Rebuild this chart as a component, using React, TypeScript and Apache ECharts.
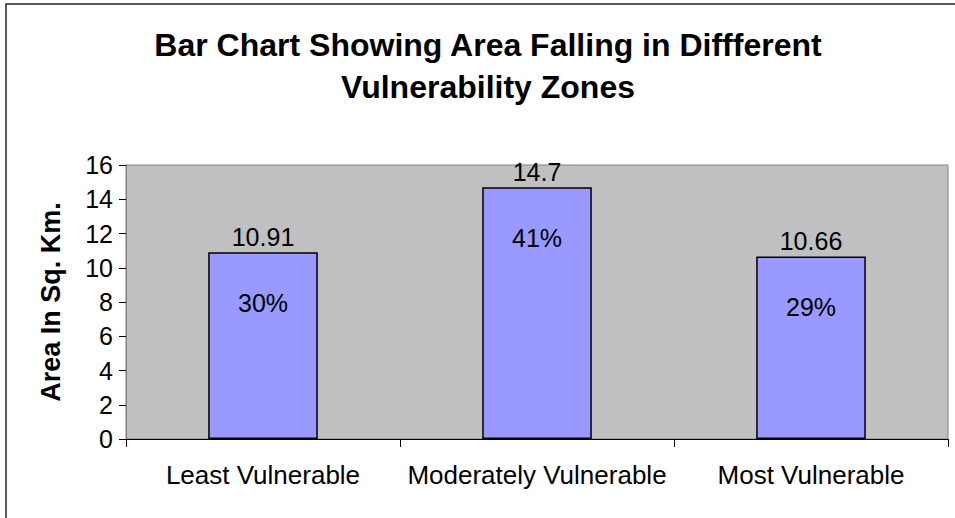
import React, { useEffect, useRef } from "react";
import * as echarts from "echarts";

const categories = ["Least Vulnerable", "Moderately Vulnerable", "Most Vulnerable"];
const areaValues = [10.91, 14.7, 10.66];
const percentLabels = ["30%", "41%", "29%"];
const titleLines = ["Bar Chart Showing Area Falling in Diffferent", "Vulnerability Zones"];
const yAxisName = "Area In Sq. Km.";

const FONT = "'Liberation Sans', Arial, sans-serif";

export default function App() {
  const ref = useRef<HTMLDivElement>(null);
  useEffect(() => {
    if (!ref.current) return;
    const chart = echarts.init(ref.current, null, { renderer: "svg" });
    chart.setOption({
      animation: false,
      backgroundColor: "#ffffff",
      textStyle: { fontFamily: FONT },
      title: {
        text: titleLines.join("\n"),
        left: 483,
        top: 19,
        textAlign: "center",
        textStyle: {
          fontFamily: FONT,
          fontSize: 32,
          fontWeight: "bold",
          color: "#000",
          lineHeight: 42,
        },
      },
      graphic: [
        {
          type: "rect",
          shape: { x: 6, y: 4, width: 1000, height: 600 },
          style: { fill: "none", stroke: "#222", lineWidth: 1.5 },
          silent: true,
          z: 100,
        },
      ],
      grid: {
        left: 126,
        top: 165,
        right: 7,
        bottom: 79,
        show: true,
        backgroundColor: "#c0c0c0",
        borderColor: "#808080",
        borderWidth: 1,
      },
      xAxis: {
        type: "category",
        data: categories,
        boundaryGap: true,
        axisLine: { lineStyle: { color: "#000", width: 1 } },
        axisTick: { show: true, length: 8, lineStyle: { color: "#000" }, alignWithLabel: false },
        axisLabel: { fontFamily: FONT, fontSize: 26, color: "#000", margin: 23, interval: 0 },
      },
      yAxis: {
        type: "value",
        min: 0,
        max: 16,
        interval: 2,
        name: yAxisName,
        nameLocation: "middle",
        nameGap: 62,
        nameTextStyle: { fontFamily: FONT, fontSize: 27, fontWeight: "bold", color: "#000" },
        axisLine: { show: true, lineStyle: { color: "#808080", width: 1 } },
        axisTick: { show: true, length: 7, lineStyle: { color: "#000" } },
        axisLabel: { fontFamily: FONT, fontSize: 25, color: "#000", margin: 13 },
        splitLine: { show: false },
      },
      series: [
        {
          type: "bar",
          data: areaValues,
          barWidth: "40%",
          itemStyle: { color: "#9999ff", borderColor: "#000", borderWidth: 1.5 },
          label: {
            show: true,
            position: "top",
            distance: 3,
            fontFamily: FONT,
            fontSize: 25,
            color: "#000",
          },
        },
        {
          type: "bar",
          data: areaValues,
          barWidth: "40%",
          barGap: "-100%",
          itemStyle: { color: "transparent" },
          silent: true,
          label: {
            show: true,
            position: "insideTop",
            distance: 38,
            fontFamily: FONT,
            fontSize: 25,
            color: "#000",
            formatter: (p: any) => percentLabels[p.dataIndex],
          },
        },
      ],
    });
    return () => chart.dispose();
  }, []);
  return (
    <div
      ref={ref}
      style={{ position: "fixed", left: 0, top: 0, width: 955, height: 518 }}
    />
  );
}
